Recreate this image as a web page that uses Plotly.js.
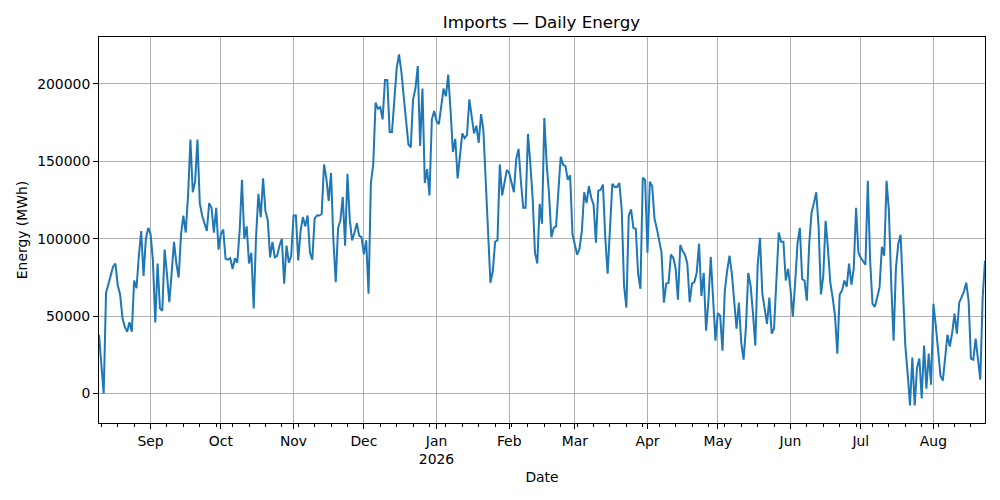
<!DOCTYPE html>
<html>
<head>
<meta charset="utf-8">
<script src="https://cdn.plot.ly/plotly-3.0.1.min.js"></script>
<style>
body{margin:0;padding:0;background:#fff;}
#chart{width:1000px;height:500px;}
</style>
</head>
<body>
<div id="chart"></div>
<script>
// first day of the daily series
var startDay = '2025-08-10';

// daily imports, MWh (one value per day from startDay)
var dailyEnergy = [
38000,18000,0,65000,71000,77000,82000,84000,70000,64000,
49000,43000,40000,46000,40000,73000,68000,89000,105000,76000,
100000,107000,103000,86000,46000,84000,55000,53500,93000,77000,
59000,78000,98000,84000,75000,103000,115000,104000,128000,164000,
130000,137000,164000,123000,115000,110000,105000,123000,120000,104000,
120000,93000,103000,106000,87000,86500,87500,80500,87500,84500,
105000,138000,100000,108000,84000,91000,55000,101000,129000,114000,
139000,118000,112000,88000,98000,88000,89000,95500,100000,71000,
95500,84500,89000,115000,115000,86000,105000,114000,108000,115000,
91000,86500,113000,115000,115000,116000,148000,139000,124500,142500,
99000,72000,107000,112000,127000,95500,142000,112000,99000,104000,
110000,102000,101000,90000,99000,64500,136000,148000,188000,184000,
185000,177000,202500,202500,169000,169000,189000,210000,219000,208000,
192000,177000,161000,159000,190000,197000,211500,160000,197000,136000,
145000,128000,177000,182500,176000,174000,186000,197000,192000,206000,
182500,156000,164500,139000,153500,168000,165000,167000,190000,179000,
168000,173000,162000,180500,170000,137000,100000,71600,79000,98000,
99000,148000,128000,135500,144500,142500,136000,130000,151500,158000,
137000,120000,120000,167700,149000,126500,91000,84000,122600,109700,
178000,148000,129000,101000,107000,108000,131000,153000,147700,147000,
138000,141000,103000,95500,89700,93500,105000,130000,123000,134000,
126500,122000,97400,131000,131600,135000,100600,77400,109700,135500,
133500,133500,136000,119000,69700,55500,114800,119000,107000,106500,
77400,67700,139400,138000,91000,136800,134000,113000,106500,98700,
91000,58700,71000,71600,89700,87700,81000,60600,96000,92000,
89700,84000,59000,71000,72000,78000,96800,63000,78000,40600,
60000,88400,64500,34200,52000,50300,27700,66500,79400,89000,
77400,60000,42000,58700,33000,21900,42600,78000,69700,52000,
31000,82600,100600,64500,54800,45000,62000,38700,42000,75000,
104000,98000,98000,73000,80600,67700,49700,71600,96800,107000,
74000,73000,60000,96800,116800,123000,130000,108000,64000,76000,
111600,93500,71600,62000,50300,25800,64000,66500,73000,69000,
84000,70300,80600,120000,91000,87700,85800,83200,137400,85800,
58000,56000,62000,68400,94800,89000,137400,118000,71000,34200,
81000,96800,102600,71000,31000,12900,-7700,23200,-7700,16800,
22600,-3200,31000,3200,25800,5800,58000,43900,27700,11600,
8400,22600,38000,30300,39400,51600,38700,58700,62000,65800,
71600,60000,22600,21900,35500,21300,9000,62000,85800
];

var monthTicks = ['2025-09-01','2025-10-01','2025-11-01','2025-12-01','2026-01-01','2026-02-01',
  '2026-03-01','2026-04-01','2026-05-01','2026-06-01','2026-07-01','2026-08-01'];
var monthLabels = ['Sep','Oct','Nov','Dec','Jan<br>2026','Feb','Mar','Apr','May','Jun','Jul','Aug'];

var dates = [];
var t0 = Date.parse(startDay + 'T00:00:00Z');
for (var i = 0; i < dailyEnergy.length; i++) {
  dates.push(new Date(t0 + i * 86400000).toISOString().slice(0, 10));
}

var trace1 = {
  x: dates,
  y: dailyEnergy,
  type: 'scatter',
  mode: 'lines',
  line: {color: '#1f77b4', width: 2},
  hoverinfo: 'x+y'
};

var axisFont = {family: 'DejaVu Sans', size: 13.9, color: '#000'};

var layout = {
  width: 1000,
  height: 500,
  margin: {l: 99, r: 15, t: 37, b: 77},
  paper_bgcolor: '#fff',
  plot_bgcolor: '#fff',
  showlegend: false,
  font: axisFont,
  title: {
    text: 'Imports \u2014 Daily Energy',
    font: {family: 'DejaVu Sans', size: 16.7, color: '#000'},
    x: 0.5415, xref: 'container', xanchor: 'center',
    y: 0.956, yref: 'container', yanchor: 'middle'
  },
  xaxis: {
    type: 'date',
    range: [startDay, dates[dates.length - 1]],
    tickmode: 'array',
    tickvals: monthTicks,
    ticktext: monthLabels,
    ticks: 'outside',
    ticklen: 5,
    tickwidth: 1,
    tickcolor: '#000',
    showgrid: true,
    gridcolor: '#b0b0b0',
    gridwidth: 1,
    showline: true,
    linecolor: '#000',
    linewidth: 1,
    mirror: true,
    zeroline: false,
    tickfont: axisFont,
    minor: {
      ticks: 'outside',
      ticklen: 3,
      tickwidth: 1,
      tickcolor: '#000',
      tick0: '2025-08-11',
      dtick: 7 * 86400000,
      showgrid: false
    },
    title: {text: 'Date', font: axisFont, standoff: 6}
  },
  yaxis: {
    range: [-19000, 230300],
    tick0: 0,
    dtick: 50000,
    tickformat: 'd',
    ticks: 'outside',
    ticklen: 5,
    tickwidth: 1,
    tickcolor: '#000',
    showgrid: true,
    gridcolor: '#b0b0b0',
    gridwidth: 1,
    showline: true,
    linecolor: '#000',
    linewidth: 1,
    mirror: true,
    zeroline: false,
    tickfont: axisFont,
    title: {text: 'Energy (MWh)', font: axisFont, standoff: 6}
  }
};

Plotly.newPlot('chart', [trace1], layout, {staticPlot: true, displayModeBar: false});
</script>
</body>
</html>
